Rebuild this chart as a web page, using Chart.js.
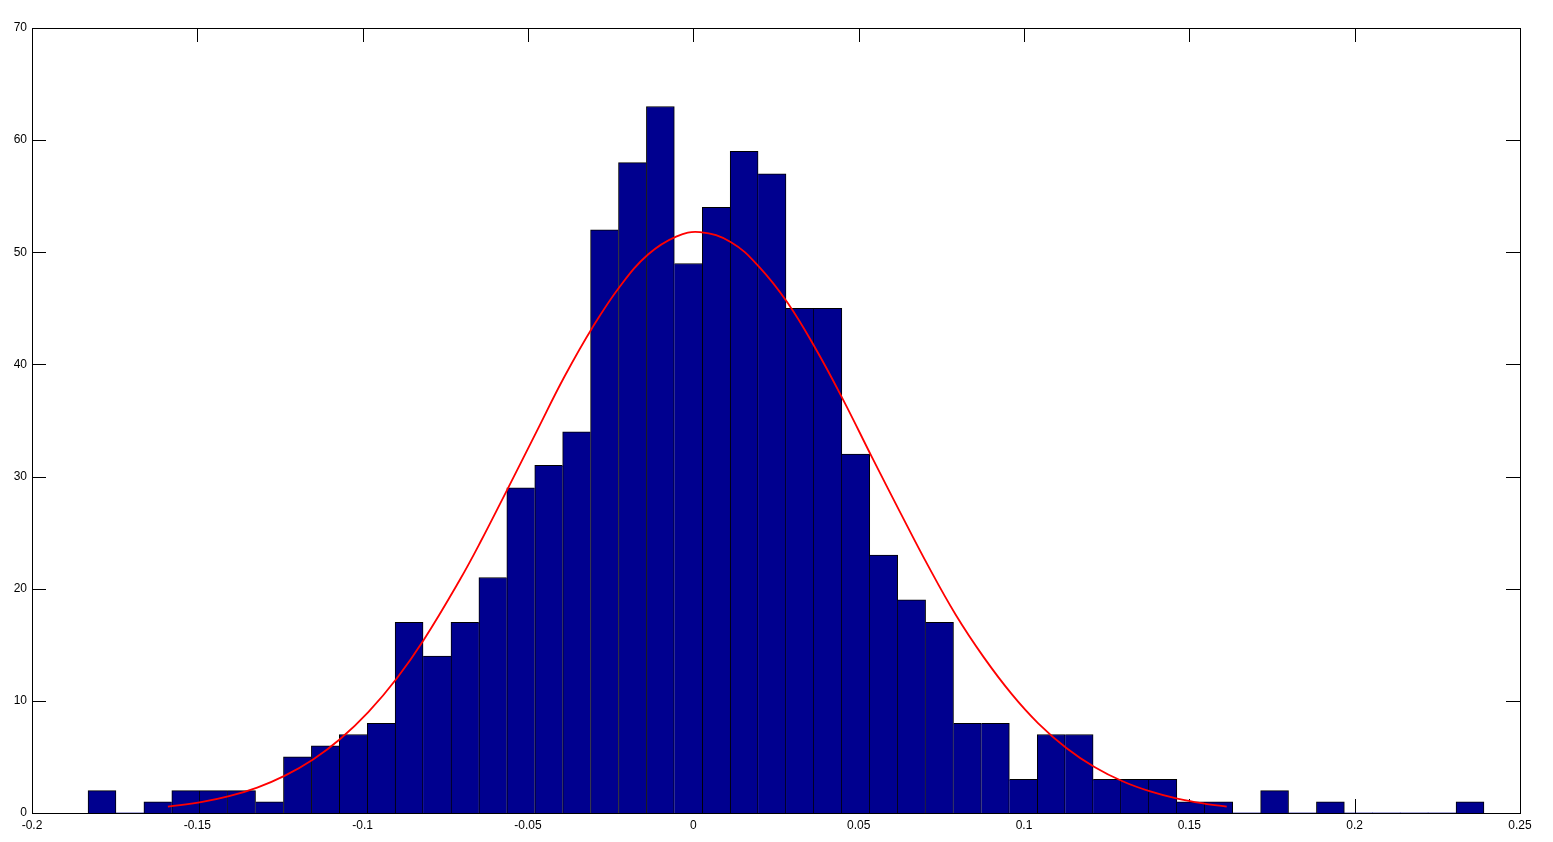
<!doctype html>
<html lang="en">
  <head>
    <meta charset="UTF-8" />
    <title>Histogram with normal fit</title>
    <script src="https://cdn.jsdelivr.net/npm/chart.js"></script>
    <style>
      body {
        margin: 0;
        background-color: #fff;
        overflow: hidden;
      }
      canvas {
        display: block;
      }
    </style>
  </head>
  <body>
    <canvas id="histChart" width="1553" height="842"></canvas>

    <script>
      // bin centres (50 bins, width ~0.00844)
      const binCenters = [
        -0.17883, -0.17039, -0.16194, -0.1535, -0.14506, -0.13662, -0.12817, -0.11973, -0.11129, -0.10284,
        -0.0944, -0.08596, -0.07751, -0.06907, -0.06063, -0.05219, -0.04374, -0.0353, -0.02686, -0.01841,
        -0.00997, -0.00153, 0.00692, 0.01536, 0.0238, 0.03225, 0.04069, 0.04913, 0.05757, 0.06602,
        0.07446, 0.0829, 0.09135, 0.09979, 0.10823, 0.11668, 0.12512, 0.13356, 0.142, 0.15045,
        0.15889, 0.16733, 0.17578, 0.18422, 0.19266, 0.20111, 0.20955, 0.21799, 0.22643, 0.23488,
      ];
      const counts = [
        2, 0, 1, 2, 2, 2, 1, 5, 6, 7,
        8, 17, 14, 17, 21, 29, 31, 34, 52, 58,
        63, 49, 54, 59, 57, 45, 45, 32, 23, 19,
        17, 8, 8, 3, 7, 7, 3, 3, 3, 1,
        1, 0, 2, 0, 1, 0, 0, 0, 0, 1,
      ];

      // fitted normal curve
      const curveX = [
        -0.1589, -0.1489, -0.1404, -0.1319, -0.1235, -0.115, -0.1068, -0.0983, -0.0897, -0.0814,
        -0.0706, -0.0645, -0.056, -0.0476, -0.039, -0.0305, -0.0221, -0.0137, -0.0052, 0.002,
        0.0114, 0.0199, 0.0285, 0.037, 0.0454, 0.0539, 0.0624, 0.0709, 0.0793, 0.0878,
        0.0963, 0.1043, 0.1128, 0.1213, 0.1298, 0.1382, 0.1467, 0.1553, 0.1613,
      ];
      const curveY = [
        0.56, 0.97, 1.5, 2.27, 3.33, 4.77, 6.6, 9.0, 12.0, 15.5,
        20.8, 24.1, 29.0, 33.9, 38.9, 43.3, 47.0, 49.8, 51.4, 51.8,
        50.9, 48.7, 45.5, 41.4, 36.8, 31.8, 26.9, 22.1, 17.7, 13.9,
        10.6, 8.0, 5.8, 4.1, 2.83, 1.92, 1.25, 0.8, 0.57,
      ];

      const xTicks = [-0.2, -0.15, -0.1, -0.05, 0, 0.05, 0.1, 0.15, 0.2, 0.25];
      const yTicks = [0, 10, 20, 30, 40, 50, 60, 70];

      const TICK_LEN = 14;

      // matlab style box with inward ticks on all four sides
      const matlabAxes = {
        id: 'matlabAxes',
        beforeDatasetsDraw(chart) {
          const { ctx, chartArea: a, scales } = chart;
          ctx.save();
          ctx.fillStyle = '#000';
          scales.x.ticks.forEach(t => {
            const px = Math.round(scales.x.getPixelForValue(t.value));
            ctx.fillRect(px, a.top, 1, TICK_LEN);
            ctx.fillRect(px, a.bottom - TICK_LEN, 1, TICK_LEN);
          });
          scales.y.ticks.forEach(t => {
            const py = Math.round(scales.y.getPixelForValue(t.value));
            ctx.fillRect(a.left, py, TICK_LEN, 1);
            ctx.fillRect(a.right - TICK_LEN, py, TICK_LEN, 1);
          });
          ctx.restore();
        },
        afterDraw(chart) {
          const { ctx, chartArea: a } = chart;
          ctx.save();
          ctx.fillStyle = '#000';
          const l = Math.round(a.left), r = Math.round(a.right);
          const t = Math.round(a.top), b = Math.round(a.bottom);
          ctx.fillRect(l, t, r - l + 1, 1);
          ctx.fillRect(l, b, r - l + 1, 1);
          ctx.fillRect(l, t, 1, b - t + 1);
          ctx.fillRect(r, t, 1, b - t + 1);
          ctx.restore();
        },
      };

      // a seam between two bars is drawn once, by the taller one
      function barBorder(context) {
        const i = context.dataIndex;
        const v = counts[i];
        if (!v) return 0;
        const prev = i > 0 ? counts[i - 1] : 0;
        const next = i < counts.length - 1 ? counts[i + 1] : 0;
        return {
          top: 1,
          left: prev < v ? 1 : 0,
          right: next <= v ? 1 : 0,
          bottom: 0,
        };
      }

      const tickFont = { family: "'Liberation Sans', Arial, sans-serif", size: 12 };

      new Chart(document.getElementById('histChart').getContext('2d'), {
        type: 'bar',
        data: {
          datasets: [
            {
              type: 'line',
              label: 'Normal fit',
              data: curveX.map((x, i) => ({ x, y: curveY[i] })),
              borderColor: '#ff0000',
              borderWidth: 1.8,
              pointRadius: 0,
              tension: 0.4,
              fill: false,
              order: 0,
            },
            {
              label: 'Counts',
              data: binCenters.map((x, i) => ({ x, y: counts[i] })),
              backgroundColor: '#00008f',
              borderColor: '#000',
              borderWidth: barBorder,
              borderSkipped: false,
              barPercentage: 1,
              categoryPercentage: 1,
              order: 1,
            },
          ],
        },
        options: {
          responsive: false,
          animation: false,
          layout: { padding: { top: 28, right: 33, left: 0, bottom: 0 } },
          plugins: {
            legend: { display: false },
            tooltip: { enabled: false },
          },
          scales: {
            x: {
              type: 'linear',
              min: -0.2,
              max: 0.25,
              offset: false,
              grid: { display: false, drawTicks: false },
              border: { display: false },
              afterBuildTicks: scale => {
                scale.ticks = xTicks.map(v => ({ value: v }));
              },
              afterFit: scale => {
                scale.height = 29;
              },
              ticks: {
                color: '#000',
                font: tickFont,
                padding: 5,
                maxRotation: 0,
                autoSkip: false,
                callback: v => String(Number(v.toFixed(2))),
              },
            },
            y: {
              min: 0,
              max: 70,
              grid: { display: false, drawTicks: false },
              border: { display: false },
              afterBuildTicks: scale => {
                scale.ticks = yTicks.map(v => ({ value: v }));
              },
              afterFit: scale => {
                scale.width = 32;
              },
              ticks: {
                color: '#000',
                font: tickFont,
                padding: 5,
              },
            },
          },
        },
        plugins: [matlabAxes],
      });
    </script>
  </body>
</html>
